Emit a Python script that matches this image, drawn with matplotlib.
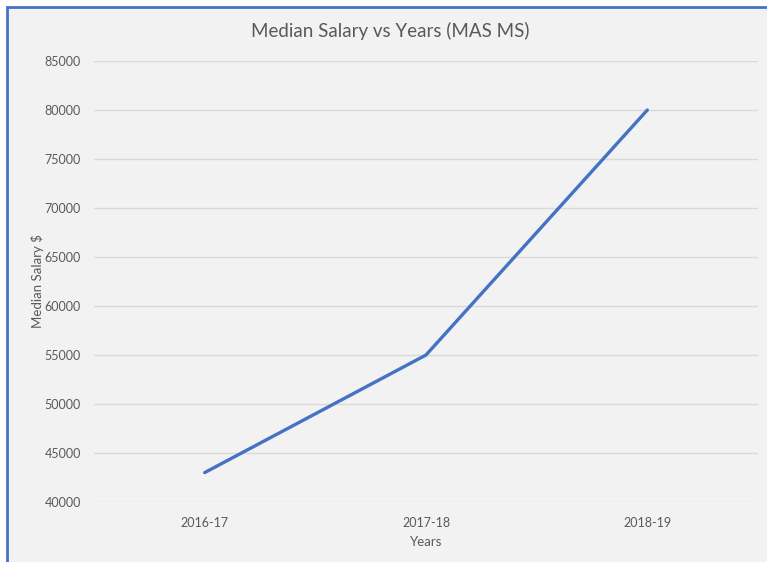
import matplotlib.pyplot as plt
from matplotlib.patches import Rectangle

years = ["2016-17", "2017-18", "2018-19"]
salary = [43000, 55000, 80000]
yticks = list(range(40000, 85001, 5000))

W, H = 767, 562
fig = plt.figure(figsize=(W / 100, H / 100), dpi=100)
fig.set_facecolor("white")

# chart area with blue border (right/bottom edges fall outside the image)
fig.patches.append(Rectangle((7 / W, -0.1), 1.2, 1.1 - 6.5 / H, transform=fig.transFigure,
                             facecolor="#f2f2f2", edgecolor="#4472c4", lw=2, zorder=-5))

ax = fig.add_axes([94 / W, 60 / H, 664 / W, 441 / H])
ax.set_facecolor("none")
ax.plot(range(len(years)), salary, color="#4472c4", lw=2.4, solid_capstyle="round", zorder=3)

ax.set_xlim(-0.5, 2.5)
ax.set_ylim(40000, 85000)
ax.set_yticks(yticks)
ax.set_xticks(range(len(years)))
ax.set_xticklabels(years)
ax.grid(axis="y", color="#d9d9d9", lw=1)
ax.set_axisbelow(True)
for s in ax.spines.values():
    s.set_visible(False)
ax.tick_params(length=0, labelcolor="#595959", labelsize=9, labelfontfamily="Lato")
ax.tick_params(axis="y", pad=9.5)
ax.tick_params(axis="x", pad=10.5)

ax.set_xlabel("Years", color="#595959", fontsize=9.5, family="Lato", labelpad=5)
ax.set_ylabel("Median Salary $", color="#595959", fontsize=9.5, family="Lato", labelpad=0)
fig.text(390 / W, 1 - 31 / H, "Median Salary vs Years (MAS MS)", ha="center", va="center",
         color="#595959", fontsize=13.5, family="Lato")

fig.savefig("out.png", dpi=100)
